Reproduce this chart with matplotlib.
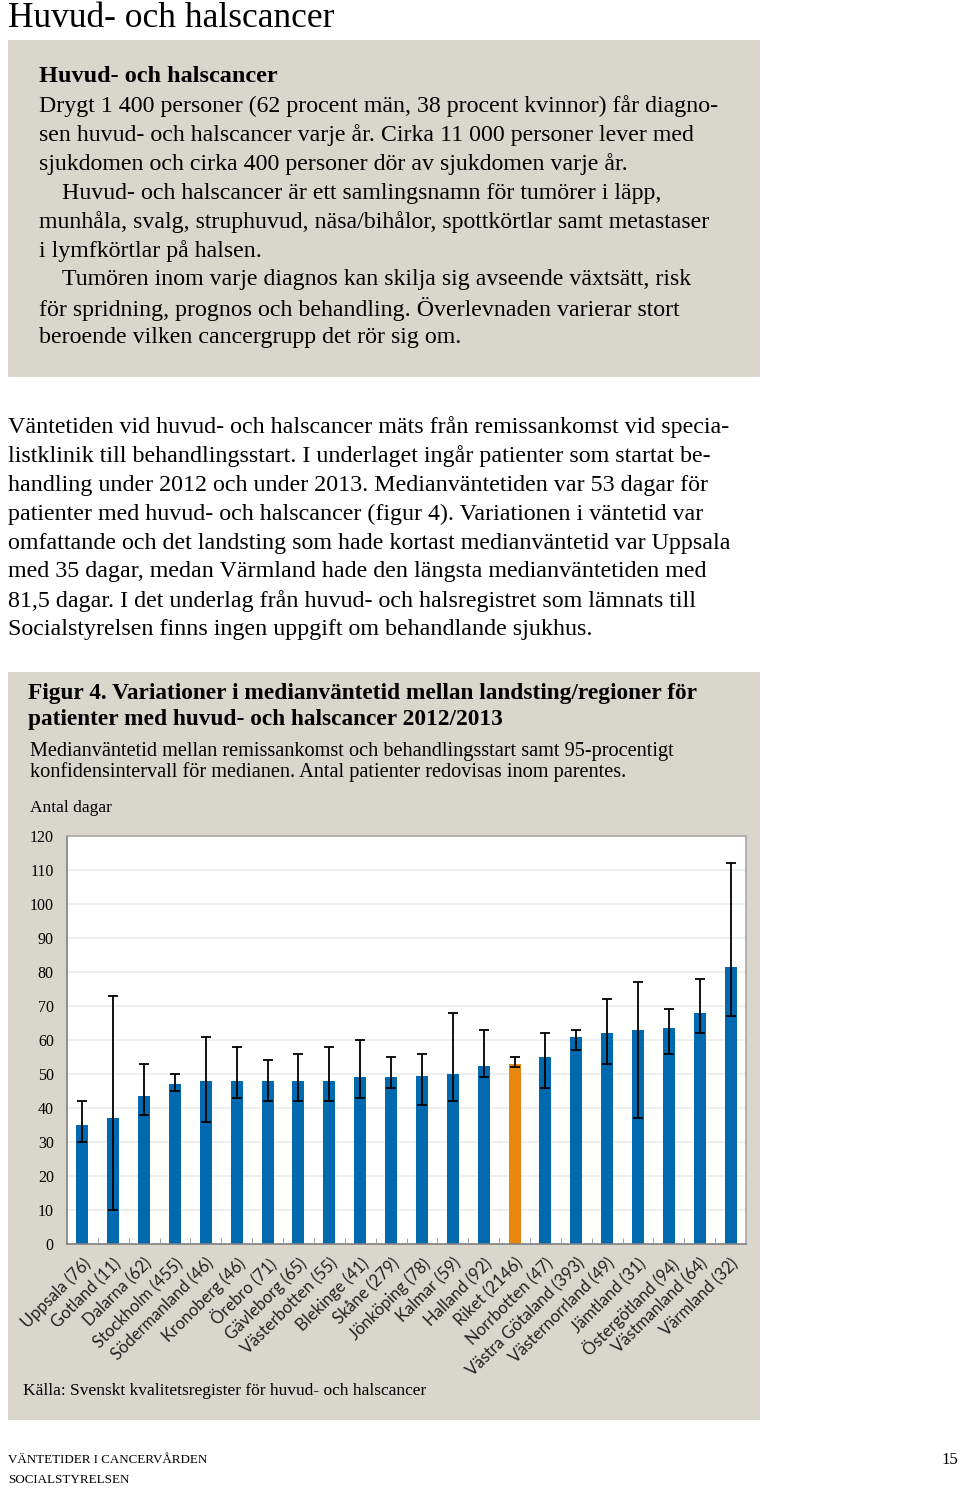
import matplotlib
matplotlib.use("Agg")
import matplotlib.pyplot as plt
from matplotlib.patches import Rectangle

# ---------------- data ----------------
regions = ["Uppsala (76)", "Gotland (11)", "Dalarna (62)", "Stockholm (455)",
           "Södermanland (46)", "Kronoberg (46)", "Örebro (71)", "Gävleborg (65)",
           "Västerbotten (55)", "Blekinge (41)", "Skåne (279)", "Jönköping (78)",
           "Kalmar (59)", "Halland (92)", "Riket (2146)", "Norrbotten (47)",
           "Västra Götaland (393)", "Västernorrland (49)", "Jämtland (31)",
           "Östergötland (94)", "Västmanland (64)", "Värmland (32)"]
median_days = [35, 37, 43.5, 47, 48, 48, 48, 48, 48, 49, 49, 49.5, 50, 52.5, 53,
               55, 61, 62, 63, 63.5, 68, 81.5]
ci_low = [30, 10, 38, 45, 36, 43, 42, 42, 42, 43, 46, 41, 42, 49, 52, 46, 57, 53,
          37, 56, 62, 67]
ci_high = [42, 73, 53, 50, 61, 58, 54, 56, 58, 60, 55, 56, 68, 63, 55, 62, 63, 72,
           77, 69, 78, 112]
highlight = "Riket (2146)"
y_ticks = [0, 10, 20, 30, 40, 50, 60, 70, 80, 90, 100, 110, 120]

BLUE = "#0069b0"
ORANGE = "#e8870c"
BOX = "#d9d7cc"
SERIF = ["Liberation Serif", "DejaVu Serif"]
SANS = ["Lato", "DejaVu Sans"]

W, H = 960, 1488
fig = plt.figure(figsize=(W / 100, H / 100), dpi=100)
fig.patch.set_facecolor("white")


def fx(x):
    return x / W


def fy(y):
    return 1 - y / H


def txt(x, y, s, size, weight="normal", family=SERIF, ha="left", va="center", **kw):
    fig.text(fx(x), fy(y), s, fontsize=size, fontweight=weight, family=family,
             ha=ha, va=va, color="black", **kw)


# gray boxes
fig.patches.append(Rectangle((fx(8), fy(377)), fx(752), (377 - 40) / H,
                             transform=fig.transFigure, facecolor=BOX,
                             edgecolor="none", zorder=0))
fig.patches.append(Rectangle((fx(8), fy(1420)), fx(752), (1420 - 672) / H,
                             transform=fig.transFigure, facecolor=BOX,
                             edgecolor="none", zorder=0))

# page title
txt(8, 27, "Huvud- och halscancer", 25.5, va="baseline")

# fact box
txt(39, 77, "Huvud- och halscancer", 17.5, weight="bold")
box_lines = [
    (39, "Drygt 1 400 personer (62 procent män, 38 procent kvinnor) får diagno-"),
    (39, "sen huvud- och halscancer varje år. Cirka 11 000 personer lever med"),
    (39, "sjukdomen och cirka 400 personer dör av sjukdomen varje år."),
    (62, "Huvud- och halscancer är ett samlingsnamn för tumörer i läpp,"),
    (39, "munhåla, svalg, struphuvud, näsa/bihålor, spottkörtlar samt metastaser"),
    (39, "i lymfkörtlar på halsen."),
    (62, "Tumören inom varje diagnos kan skilja sig avseende växtsätt, risk"),
    (39, "för spridning, prognos och behandling. Överlevnaden varierar stort"),
    (39, "beroende vilken cancergrupp det rör sig om."),
]
for i, (x, s) in enumerate(box_lines):
    txt(x, 106 + i * 29, s, 17.2)

para = [
    "Väntetiden vid huvud- och halscancer mäts från remissankomst vid specia-",
    "listklinik till behandlingsstart. I underlaget ingår patienter som startat be-",
    "handling under 2012 och under 2013. Medianväntetiden var 53 dagar för",
    "patienter med huvud- och halscancer (figur 4). Variationen i väntetid var",
    "omfattande och det landsting som hade kortast medianväntetid var Uppsala",
    "med 35 dagar, medan Värmland hade den längsta medianväntetiden med",
    "81,5 dagar. I det underlag från huvud- och halsregistret som lämnats till",
    "Socialstyrelsen finns ingen uppgift om behandlande sjukhus.",
]
for i, s in enumerate(para):
    txt(8, 427 + i * 29, s, 17.3)

# figure caption
txt(28, 694, "Figur 4. Variationer i medianväntetid mellan landsting/regioner för", 16.8,
    weight="bold")
txt(28, 720, "patienter med huvud- och halscancer 2012/2013", 16.8, weight="bold")
txt(30, 751, "Medianväntetid mellan remissankomst och behandlingsstart samt 95-procentigt",
    14.6)
txt(30, 772, "konfidensintervall för medianen. Antal patienter redovisas inom parentes.",
    14.6)
txt(30, 808, "Antal dagar", 12.5)

# chart axes
ax = fig.add_axes([fx(67), fy(1244.3), (746 - 67) / W, (1244.3 - 835.7) / H])
ax.set_zorder(5)
ax.set_facecolor("white")
xs = list(range(len(regions)))
colors = [ORANGE if r == highlight else BLUE for r in regions]
err_low = [m - lo for m, lo in zip(median_days, ci_low)]
err_high = [hi - m for m, hi in zip(median_days, ci_high)]
ax.bar(xs, median_days, width=0.39, color=colors, zorder=2)
ax.errorbar(xs, median_days, yerr=[err_low, err_high], fmt="none", ecolor="black",
            elinewidth=1.3, capsize=3.5, capthick=1.3, zorder=3)
ax.set_xlim(-0.5, len(regions) - 0.5)
ax.set_ylim(0, 120)
ax.set_yticks(y_ticks)
ax.set_yticklabels([str(v) for v in y_ticks], family=SERIF, fontsize=11.5)
ax.tick_params(axis="y", length=0, pad=9.5)
ax.yaxis.grid(True, color="#ececec", linewidth=1.2, zorder=0)
ax.set_axisbelow(True)
ax.set_xticks([x + 0.5 for x in xs[:-1]], minor=True)
ax.set_xticks(xs)
ax.set_xticklabels([])
ax.tick_params(axis="x", which="major", length=0)
ax.tick_params(axis="x", which="minor", direction="in", length=4, color="#909090")
for side in ["top", "right"]:
    ax.spines[side].set_color("#a8a8a8")
    ax.spines[side].set_linewidth(1.2)
for side in ["left", "bottom"]:
    ax.spines[side].set_color("#808080")
    ax.spines[side].set_linewidth(1.2)

for x, lab in zip(xs, regions):
    ax.annotate(lab, xy=(x, 0), xycoords=("data", "axes fraction"),
                xytext=(0, -8), textcoords="offset points",
                rotation=45, rotation_mode="anchor", ha="right", va="top",
                fontsize=12, family=SANS, color="#222222", annotation_clip=False)

# source
txt(23, 1391, "Källa: Svenskt kvalitetsregister för huvud- och halscancer", 12.5)

# footer
txt(8, 1460, "VÄNTETIDER I CANCERVÅRDEN", 9.4)
txt(8, 1480, "SOCIALSTYRELSEN", 9.4)
txt(958, 1460, "15", 12, ha="right")

fig.savefig("out.png", dpi=100, facecolor="white")
